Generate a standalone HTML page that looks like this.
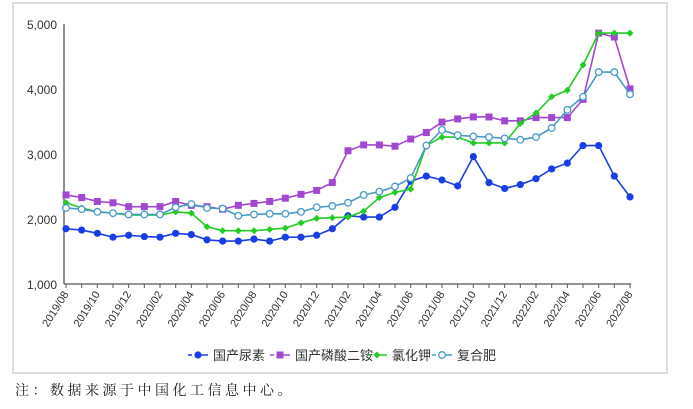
<!DOCTYPE html>
<html><head><meta charset="utf-8"><style>
body{margin:0;background:#fff;width:693px;height:404px;overflow:hidden;font-family:"Liberation Sans","Noto Sans CJK SC",sans-serif}
</style></head><body>
<svg width="693" height="404">
<rect x="13" y="3" width="654" height="370" fill="none" stroke="#ddd" stroke-width="2"/>
<g id="plot"></g>
<text x="15" y="395" font-family="'Liberation Serif','Noto Serif CJK SC',serif" font-size="14" letter-spacing="3.5" fill="#222">注：数据来源于中国化工信息中心。</text>
</svg>
<script>
const categories=["2019/08","2019/09","2019/10","2019/11","2019/12","2020/01","2020/02","2020/03","2020/04","2020/05","2020/06","2020/07","2020/08","2020/09","2020/10","2020/11","2020/12","2021/01","2021/02","2021/03","2021/04","2021/05","2021/06","2021/07","2021/08","2021/09","2021/10","2021/11","2021/12","2022/01","2022/02","2022/03","2022/04","2022/05","2022/06","2022/07","2022/08"];
const urea=[1850,1830,1780,1720,1750,1730,1720,1780,1760,1680,1660,1660,1690,1660,1720,1720,1750,1850,2050,2030,2030,2180,2580,2660,2600,2510,2960,2560,2470,2530,2620,2770,2860,3130,3130,2660,2340];
const dap=[2370,2330,2270,2250,2190,2190,2190,2270,2210,2190,2150,2210,2240,2270,2320,2380,2440,2560,3050,3140,3140,3120,3230,3330,3490,3540,3570,3570,3510,3510,3560,3560,3560,3840,4860,4800,4000];
const kcl=[2250,2170,2110,2090,2060,2060,2060,2110,2090,1880,1820,1820,1820,1840,1860,1940,2010,2020,2030,2120,2330,2410,2460,3130,3260,3260,3170,3170,3170,3470,3630,3880,3980,4370,4860,4860,4860];
const compound=[2170,2150,2110,2090,2070,2070,2070,2180,2230,2170,2160,2050,2070,2080,2080,2110,2180,2200,2250,2370,2420,2500,2630,3130,3370,3290,3270,3260,3240,3220,3260,3400,3680,3880,4260,4260,3920];
const yTicks=[1000,2000,3000,4000,5000];
const yTickLabels=["1,000","2,000","3,000","4,000","5,000"];
const seriesNames=["国产尿素","国产磷酸二铵","氯化钾","复合肥"];
const NS="http://www.w3.org/2000/svg";
const g=document.getElementById('plot');
const x0=66,x1=630,yTop=24,yBot=284;
const xs=i=>x0+(x1-x0)*i/(categories.length-1);
const ys=v=>yBot-(v-1000)/(5000-1000)*(yBot-yTop);
function mk(t,a){const e=document.createElementNS(NS,t);for(const k in a)e.setAttribute(k,a[k]);g.appendChild(e);return e;}
let ax=mk('line',{x1:x0-2,y1:yTop,x2:x0-2,y2:yBot,stroke:'#555','stroke-width':1.3});


let bx=mk('line',{x1:x0-2,y1:yBot,x2:x1+1,y2:yBot,stroke:'#555','stroke-width':1.3});


yTicks.forEach((v,i)=>{const t=mk('text',{x:57,y:ys(v)+5,'text-anchor':'end','font-size':12,fill:'#333'});t.textContent=yTickLabels[i];

});
categories.forEach((c,i)=>{const x=xs(i);mk('line',{x1:x,y1:yBot,x2:x,y2:yBot+4,stroke:'#555'});
if(i%2===0){const t=mk('text',{x:x+3,y:yBot+10,'text-anchor':'end','font-size':11,fill:'#333',transform:`rotate(-58 ${x+3} ${yBot+10})`});t.textContent=c;

}});
const series=[[urea,'#1a3de6','dot'],[dap,'#a048d0','sq'],[kcl,'#22cc22','dia'],[compound,'#4a9ac8','open']];
function marker(x,y,col,type,sz){
 if(type==='dot')return mk('circle',{cx:x,cy:y,r:3.6*sz,fill:col});
 if(type==='sq')return mk('rect',{x:x-3.5*sz,y:y-3.5*sz,width:7*sz,height:7*sz,fill:col});
 if(type==='dia')return mk('path',{d:`M${x} ${y-3.5*sz}L${x+3.5*sz} ${y}L${x} ${y+3.5*sz}L${x-3.5*sz} ${y}Z`,fill:col});
 return mk('circle',{cx:x,cy:y,r:3.3*sz,fill:'#fff',stroke:col,'stroke-width':1.3});
}
series.forEach((s,k)=>{const d=s[0].map((v,i)=>(i?'L':'M')+xs(i)+' '+ys(v)).join('');
const p=mk('path',{d:d,fill:'none',stroke:s[1],'stroke-width':1.6});


s[0].forEach((v,i)=>{const m=marker(xs(i),ys(v),s[1],s[2],1);

});});
const lx=[188,270,367,432];
seriesNames.forEach((n,k)=>{const x=lx[k],y=355;const s=series[k];
mk('line',{x1:x,y1:y,x2:x+20,y2:y,stroke:s[1],'stroke-width':1.6,'stroke-dasharray':'4 8 8'});
marker(x+10,y,s[1],s[2],1);
const t=mk('text',{x:x+25,y:y+5,'font-size':13,fill:'#333'});t.textContent=n;

});
</script>
</body></html>
